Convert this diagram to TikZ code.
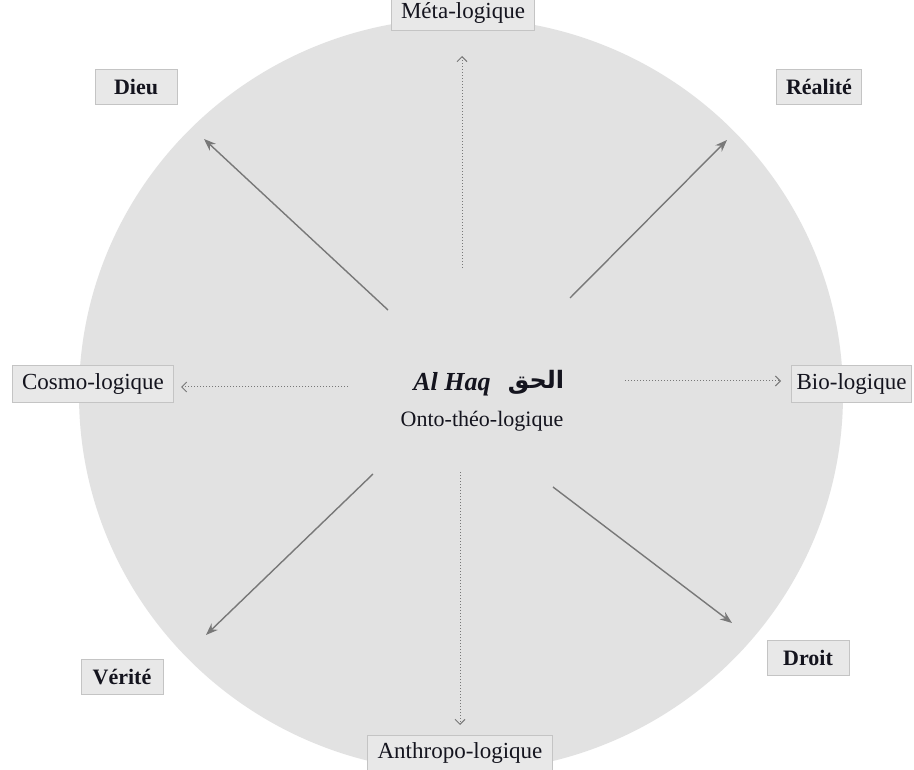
\documentclass[tikz,border=0pt]{standalone}
\usepackage{fontspec}
\setmainfont{Liberation Serif}
\newfontfamily\arabicfont[Script=Arabic]{DejaVu Sans}
\TeXXeTstate=1
\usetikzlibrary{arrows.meta}
\definecolor{discfill}{RGB}{226,226,226}
\definecolor{boxfill}{RGB}{232,232,232}
\definecolor{boxline}{RGB}{196,196,196}
\definecolor{arrowgray}{RGB}{120,120,120}
\definecolor{txt}{RGB}{20,20,30}
\tikzset{
  lab/.style={draw=boxline, fill=boxfill, line width=1pt, text=txt, font=\fontsize{23}{26}\selectfont, inner xsep=10pt, inner ysep=5pt, minimum height=36pt},
  blab/.style={lab, font=\fontsize{22}{25}\selectfont\bfseries, minimum width=82pt, minimum height=35pt},
  diag/.style={draw=arrowgray, line width=1.4pt, -{Stealth[length=12pt,width=9pt]}},
  axis/.style={draw=arrowgray, line width=1pt, dotted, -{Straight Barb[length=5pt,width=10pt]}}
}
\begin{document}
\begin{tikzpicture}[x=1pt,y=-1pt]
\useasboundingbox (0,0) rectangle (914,770);
\fill[white] (0,0) rectangle (914,770);
\fill[discfill] (461,395) ellipse [x radius=382, y radius=377];

% labels
\node[lab]  (meta)   at (463,13)  {Méta-logique};
\node[blab] (dieu)   at (136,87)  {Dieu};
\node[blab] (realite) at (819,87) {Réalité};
\node[lab]  (cosmo)  at (93,384)  {Cosmo-logique};
\node[lab, anchor=east, inner xsep=5pt] (bio) at (912,384) {Bio-logique};
\node[blab] (verite) at (122,677) {Vérité};
\node[blab] (droit)  at (808,658) {Droit};
\node[lab]  (anthro) at (460,753) {Anthropo-logique};

% center
\node[text=txt, font=\fontsize{26}{30}\selectfont\bfseries\itshape] (alhaq) at (452,384) {Al Haq};
\node[text=txt, font=\fontsize{24}{28}\selectfont\arabicfont\bfseries] (haq) at (536,382) {\beginR الحق\endR};
\node[text=txt, font=\fontsize{22}{25}\selectfont] (onto) at (482,421) {Onto-théo-logique};

% arrow end points
\coordinate (cU) at (462,268); \coordinate (eU) at (462,56);
\coordinate (cD) at (460,472); \coordinate (eD) at (460,725);
\coordinate (cL) at (348,387); \coordinate (eL) at (181,387);
\coordinate (cR) at (625,381); \coordinate (eR) at (781,381);
\coordinate (cNW) at (388,310); \coordinate (eNW) at (204,139);
\coordinate (cNE) at (570,298); \coordinate (eNE) at (727,140);
\coordinate (cSW) at (373,474); \coordinate (eSW) at (206,635);
\coordinate (cSE) at (553,487); \coordinate (eSE) at (732,623);

\draw[axis] (cU) -- (eU);
\draw[axis] (cD) -- (eD);
\draw[axis] (cL) -- (eL);
\draw[axis] (cR) -- (eR);
\draw[diag] (cNW) -- (eNW);
\draw[diag] (cNE) -- (eNE);
\draw[diag] (cSW) -- (eSW);
\draw[diag] (cSE) -- (eSE);
\end{tikzpicture}
\end{document}
